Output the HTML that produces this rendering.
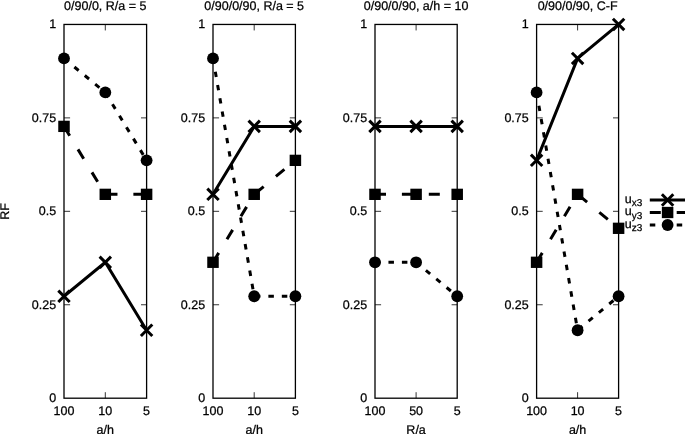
<!DOCTYPE html>
<html lang="en"><head><meta charset="utf-8"><title>RF plots</title>
<style>html,body{margin:0;padding:0;background:#fff}svg{display:block}text{stroke:#000;stroke-width:.25px}</style></head>
<body>
<svg width="685" height="434" viewBox="0 0 685 434">
<rect width="685" height="434" fill="#fff"/>
<g font-family="'Liberation Sans', sans-serif" font-size="12.5" fill="#000" text-rendering="geometricPrecision">
<rect x="64.0" y="24.45" width="82.60" height="373.75" fill="none" stroke="#000" stroke-width="1.3"/>
<path d="M64.0 304.76h6.1M146.6 304.76h-5.6M64.0 211.32h6.1M146.6 211.32h-5.6M64.0 117.89h6.1M146.6 117.89h-5.6M105.30 24.45v6M105.30 398.2v-6" stroke="#000" stroke-width="0.8" fill="none"/>
<text x="56.15" y="402.15" text-anchor="end">0</text>
<text x="56.15" y="308.71" text-anchor="end">0.25</text>
<text x="56.15" y="215.27" text-anchor="end">0.5</text>
<text x="56.15" y="121.84" text-anchor="end">0.75</text>
<text x="56.15" y="28.40" text-anchor="end">1</text>
<text x="64.00" y="415.15" text-anchor="middle">100</text>
<text x="105.30" y="415.15" text-anchor="middle">10</text>
<text x="146.60" y="415.15" text-anchor="middle">5</text>
<text x="105.30" y="434.2" text-anchor="middle">a/h</text>
<text x="105.30" y="9.85" text-anchor="middle">0/90/0, R/a = 5</text>
<polyline points="64.00,296.27 105.30,262.29 146.60,330.25" fill="none" stroke="#000" stroke-width="3.0"/>
<path d="M58.30 290.57L69.70 301.97M58.30 301.97L69.70 290.57" stroke="#000" stroke-width="3.0" fill="none"/>
<path d="M99.60 256.59L111.00 267.99M99.60 267.99L111.00 256.59" stroke="#000" stroke-width="3.0" fill="none"/>
<path d="M140.90 324.55L152.30 335.95M140.90 335.95L152.30 324.55" stroke="#000" stroke-width="3.0" fill="none"/>
<polyline points="64.00,126.38 105.30,194.34 146.60,194.34" fill="none" stroke="#000" stroke-width="3.0" stroke-dasharray="11 15.9"/>
<rect x="58.25" y="120.73" width="11.50" height="11.30"/>
<rect x="99.55" y="188.69" width="11.50" height="11.30"/>
<rect x="140.85" y="188.69" width="11.50" height="11.30"/>
<polyline points="64.00,58.43 105.30,92.40 146.60,160.36" fill="none" stroke="#000" stroke-width="3.0" stroke-dasharray="5.5 7.95"/>
<circle cx="64.00" cy="58.43" r="5.9"/>
<circle cx="105.30" cy="92.40" r="5.9"/>
<circle cx="146.60" cy="160.36" r="5.9"/>
<rect x="213.0" y="24.45" width="82.40" height="373.75" fill="none" stroke="#000" stroke-width="1.3"/>
<path d="M213.0 304.76h6.1M295.4 304.76h-5.6M213.0 211.32h6.1M295.4 211.32h-5.6M213.0 117.89h6.1M295.4 117.89h-5.6M254.20 24.45v6M254.20 398.2v-6" stroke="#000" stroke-width="0.8" fill="none"/>
<text x="205.15" y="402.15" text-anchor="end">0</text>
<text x="205.15" y="308.71" text-anchor="end">0.25</text>
<text x="205.15" y="215.27" text-anchor="end">0.5</text>
<text x="205.15" y="121.84" text-anchor="end">0.75</text>
<text x="205.15" y="28.40" text-anchor="end">1</text>
<text x="213.00" y="415.15" text-anchor="middle">100</text>
<text x="254.20" y="415.15" text-anchor="middle">10</text>
<text x="295.40" y="415.15" text-anchor="middle">5</text>
<text x="254.20" y="434.2" text-anchor="middle">a/h</text>
<text x="254.20" y="9.85" text-anchor="middle">0/90/0/90, R/a = 5</text>
<polyline points="213.00,194.34 254.20,126.38 295.40,126.38" fill="none" stroke="#000" stroke-width="3.0"/>
<path d="M207.30 188.64L218.70 200.04M207.30 200.04L218.70 188.64" stroke="#000" stroke-width="3.0" fill="none"/>
<path d="M248.50 120.68L259.90 132.08M248.50 132.08L259.90 120.68" stroke="#000" stroke-width="3.0" fill="none"/>
<path d="M289.70 120.68L301.10 132.08M289.70 132.08L301.10 120.68" stroke="#000" stroke-width="3.0" fill="none"/>
<polyline points="213.00,262.29 254.20,194.34 295.40,160.36" fill="none" stroke="#000" stroke-width="3.0" stroke-dasharray="11 15.9"/>
<rect x="207.25" y="256.64" width="11.50" height="11.30"/>
<rect x="248.45" y="188.69" width="11.50" height="11.30"/>
<rect x="289.65" y="154.71" width="11.50" height="11.30"/>
<polyline points="213.00,58.43 254.20,296.27 295.40,296.27" fill="none" stroke="#000" stroke-width="3.0" stroke-dasharray="5.5 7.95"/>
<circle cx="213.00" cy="58.43" r="5.9"/>
<circle cx="254.20" cy="296.27" r="5.9"/>
<circle cx="295.40" cy="296.27" r="5.9"/>
<rect x="375.0" y="24.45" width="82.20" height="373.75" fill="none" stroke="#000" stroke-width="1.3"/>
<path d="M375.0 304.76h6.1M457.2 304.76h-5.6M375.0 211.32h6.1M457.2 211.32h-5.6M375.0 117.89h6.1M457.2 117.89h-5.6M416.10 24.45v6M416.10 398.2v-6" stroke="#000" stroke-width="0.8" fill="none"/>
<text x="367.15" y="402.15" text-anchor="end">0</text>
<text x="367.15" y="308.71" text-anchor="end">0.25</text>
<text x="367.15" y="215.27" text-anchor="end">0.5</text>
<text x="367.15" y="121.84" text-anchor="end">0.75</text>
<text x="367.15" y="28.40" text-anchor="end">1</text>
<text x="375.00" y="415.15" text-anchor="middle">100</text>
<text x="416.10" y="415.15" text-anchor="middle">50</text>
<text x="457.20" y="415.15" text-anchor="middle">5</text>
<text x="416.10" y="434.2" text-anchor="middle">R/a</text>
<text x="416.10" y="9.85" text-anchor="middle">0/90/0/90, a/h = 10</text>
<polyline points="375.00,126.38 416.10,126.38 457.20,126.38" fill="none" stroke="#000" stroke-width="3.0"/>
<path d="M369.30 120.68L380.70 132.08M369.30 132.08L380.70 120.68" stroke="#000" stroke-width="3.0" fill="none"/>
<path d="M410.40 120.68L421.80 132.08M410.40 132.08L421.80 120.68" stroke="#000" stroke-width="3.0" fill="none"/>
<path d="M451.50 120.68L462.90 132.08M451.50 132.08L462.90 120.68" stroke="#000" stroke-width="3.0" fill="none"/>
<polyline points="375.00,194.34 416.10,194.34 457.20,194.34" fill="none" stroke="#000" stroke-width="3.0" stroke-dasharray="11 15.9"/>
<rect x="369.25" y="188.69" width="11.50" height="11.30"/>
<rect x="410.35" y="188.69" width="11.50" height="11.30"/>
<rect x="451.45" y="188.69" width="11.50" height="11.30"/>
<polyline points="375.00,262.29 416.10,262.29 457.20,296.27" fill="none" stroke="#000" stroke-width="3.0" stroke-dasharray="5.5 7.95"/>
<circle cx="375.00" cy="262.29" r="5.9"/>
<circle cx="416.10" cy="262.29" r="5.9"/>
<circle cx="457.20" cy="296.27" r="5.9"/>
<rect x="536.6" y="24.45" width="82.00" height="373.75" fill="none" stroke="#000" stroke-width="1.3"/>
<path d="M536.6 304.76h6.1M618.6 304.76h-5.6M536.6 211.32h6.1M618.6 211.32h-5.6M536.6 117.89h6.1M618.6 117.89h-5.6M577.60 24.45v6M577.60 398.2v-6" stroke="#000" stroke-width="0.8" fill="none"/>
<text x="528.75" y="402.15" text-anchor="end">0</text>
<text x="528.75" y="308.71" text-anchor="end">0.25</text>
<text x="528.75" y="215.27" text-anchor="end">0.5</text>
<text x="528.75" y="121.84" text-anchor="end">0.75</text>
<text x="528.75" y="28.40" text-anchor="end">1</text>
<text x="536.60" y="415.15" text-anchor="middle">100</text>
<text x="577.60" y="415.15" text-anchor="middle">10</text>
<text x="618.60" y="415.15" text-anchor="middle">5</text>
<text x="577.60" y="434.2" text-anchor="middle">a/h</text>
<text x="577.60" y="9.85" text-anchor="middle">0/90/0/90, C-F</text>
<polyline points="536.60,160.36 577.60,58.43 618.60,24.45" fill="none" stroke="#000" stroke-width="3.0"/>
<path d="M530.90 154.66L542.30 166.06M530.90 166.06L542.30 154.66" stroke="#000" stroke-width="3.0" fill="none"/>
<path d="M571.90 52.73L583.30 64.13M571.90 64.13L583.30 52.73" stroke="#000" stroke-width="3.0" fill="none"/>
<path d="M612.90 18.75L624.30 30.15M612.90 30.15L624.30 18.75" stroke="#000" stroke-width="3.0" fill="none"/>
<polyline points="536.60,262.29 577.60,194.34 618.60,228.31" fill="none" stroke="#000" stroke-width="3.0" stroke-dasharray="11 15.9"/>
<rect x="530.85" y="256.64" width="11.50" height="11.30"/>
<rect x="571.85" y="188.69" width="11.50" height="11.30"/>
<rect x="612.85" y="222.66" width="11.50" height="11.30"/>
<polyline points="536.60,92.40 577.60,330.25 618.60,296.27" fill="none" stroke="#000" stroke-width="3.0" stroke-dasharray="5.5 7.95"/>
<circle cx="536.60" cy="92.40" r="5.9"/>
<circle cx="577.60" cy="330.25" r="5.9"/>
<circle cx="618.60" cy="296.27" r="5.9"/>
<text transform="translate(9.2 211.4) rotate(-90)" text-anchor="middle">RF</text>
<path d="M649.8 200.0H690" fill="none" stroke="#000" stroke-width="3.0"/>
<path d="M661.90 194.30L673.30 205.70M661.90 205.70L673.30 194.30" stroke="#000" stroke-width="3.0" fill="none"/>
<text x="642.2" y="202.80" text-anchor="end">u<tspan font-size="10.00" dy="3.6">x3</tspan></text>
<path d="M649.8 212.5H690" fill="none" stroke="#000" stroke-width="3.0" stroke-dasharray="11 15.9"/>
<rect x="661.85" y="206.85" width="11.50" height="11.30"/>
<text x="642.2" y="215.30" text-anchor="end">u<tspan font-size="10.00" dy="3.6">y3</tspan></text>
<path d="M649.8 225.0H690" fill="none" stroke="#000" stroke-width="3.0" stroke-dasharray="5.5 7.95"/>
<circle cx="667.60" cy="225.00" r="5.9"/>
<text x="642.2" y="227.80" text-anchor="end">u<tspan font-size="10.00" dy="3.6">z3</tspan></text>
</g></svg>
</body></html>
